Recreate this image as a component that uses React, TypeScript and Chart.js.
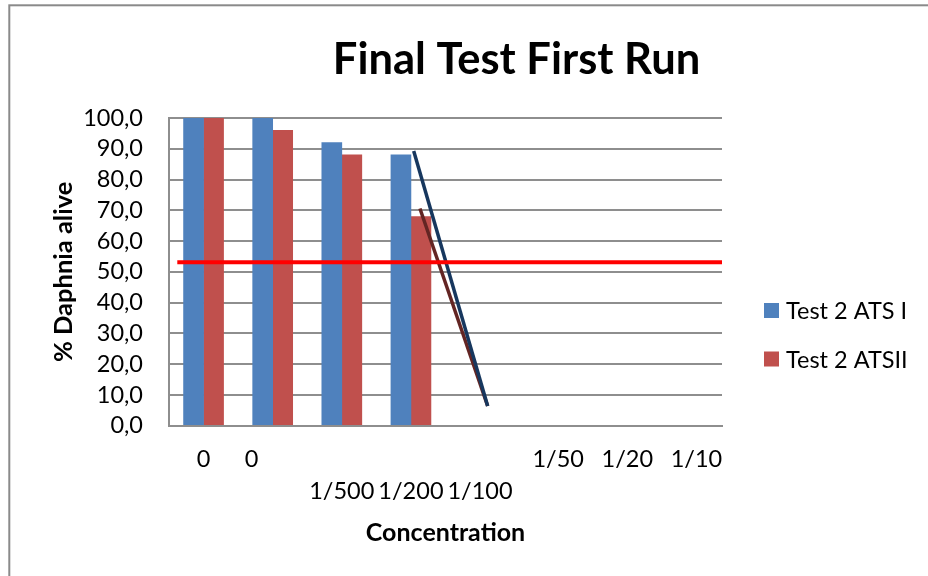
import { useEffect, useRef } from 'react';
import { Chart, registerables } from 'chart.js';

Chart.register(...registerables);

// ---- data ----
const categories = ['0', '0       ', '1/500', '1/200', '1/100', '   1/50', '   1/20', '   1/10'];
const labelRows = [0, 0, 1, 1, 1, 0, 0, 0];
const seriesNames = ['Test 2 ATS I', 'Test 2 ATSII'];
const ats1Values = [100, 100, 92, 88, null, null, null, null];
const ats2Values = [100, 96, 88, 68, null, null, null, null];

// drawn lines (x in category-index units, y in % alive)
const navyLineX = [3.04, 4.11];
const navyLineY = [89.3, 6.4];
const brownLineX = [3.13, 4.11];
const brownLineY = [70.6, 6.4];
const thresholdX = [-0.38, 7.5];
const thresholdY = [53.1, 53.1];

const yMin = 0;
const yMax = 100;
const yStep = 10;

const titleText = 'Final Test First Run';
const xTitle = 'Concentration';
const yTitle = '% Daphnia alive';

const FONT = 'Lato, "Open Sans", sans-serif';

const pts = (xs: number[], ys: number[]) => xs.map((x, i) => ({ x, y: ys[i] }));

const decor = {
  id: 'decor',
  beforeDraw(chart: any) {
    const { ctx } = chart;
    ctx.save();
    ctx.fillStyle = '#ffffff';
    ctx.fillRect(0, 0, chart.width, chart.height);
    ctx.strokeStyle = '#8a8a8a';
    ctx.lineWidth = 2;
    ctx.strokeRect(9.3, 5.3, chart.width + 40, chart.height + 40);
    ctx.restore();
  },
  afterDraw(chart: any) {
    const { ctx } = chart;
    ctx.save();
    ctx.fillStyle = '#000';
    ctx.font = `bold 43.5px ${FONT}`;
    ctx.textAlign = 'center';
    ctx.textBaseline = 'alphabetic';
    ctx.fillText(titleText, 516.5, 74);

    // legend
    const bars = chart.data.datasets.filter((d: any) => d.type === 'bar');
    ctx.font = `23.5px ${FONT}`;
    ctx.textAlign = 'left';
    ctx.textBaseline = 'middle';
    bars.forEach((d: any, i: number) => {
      const cy = 310.5 + i * 48.5;
      ctx.fillStyle = d.backgroundColor;
      ctx.fillRect(764, cy - 7.5, 15, 15);
      ctx.fillStyle = '#000';
      ctx.fillText(d.label, 786, cy + 1);
    });
    ctx.restore();
  },
};

export default function App() {
  const ref = useRef<HTMLCanvasElement>(null);
  useEffect(() => {
    const canvas = ref.current!;
    const chart = new Chart(canvas, {
      type: 'bar',
      data: {
        labels: categories,
        datasets: [
          {
            type: 'line',
            label: 'threshold',
            data: pts(thresholdX, thresholdY),
            xAxisID: 'x2',
            yAxisID: 'y',
            borderColor: '#FF0000',
            borderWidth: 4,
            pointRadius: 0,
            fill: false,
            order: 0,
          } as any,
          {
            type: 'line',
            label: 'navy',
            data: pts(navyLineX, navyLineY),
            xAxisID: 'x2',
            yAxisID: 'y',
            borderColor: '#17375E',
            borderWidth: 3.5,
            pointRadius: 0,
            fill: false,
            order: 1,
          } as any,
          {
            type: 'line',
            label: 'brown',
            data: pts(brownLineX, brownLineY),
            xAxisID: 'x2',
            yAxisID: 'y',
            borderColor: '#632523',
            borderWidth: 3.5,
            pointRadius: 0,
            fill: false,
            order: 1,
          } as any,
          {
            type: 'bar',
            label: seriesNames[0],
            data: ats1Values,
            backgroundColor: '#4F81BD',
            xAxisID: 'x',
            barThickness: 20,
            order: 2,
          } as any,
          {
            type: 'bar',
            label: seriesNames[1],
            data: ats2Values,
            backgroundColor: '#C0504D',
            xAxisID: 'x',
            barThickness: 20,
            order: 2,
          } as any,
        ],
      },
      options: {
        responsive: false,
        animation: false,
        devicePixelRatio: 1,
        layout: { padding: { left: 0, right: 206, top: 118, bottom: 0 } },
        plugins: {
          legend: { display: false },
          tooltip: { enabled: false },
          title: { display: false },
        },
        scales: {
          x: {
            type: 'category',
            offset: true,
            grid: { display: false, drawTicks: false },
            border: { display: true, color: '#8E8E8E', width: 2 },
            ticks: {
              autoSkip: false,
              maxRotation: 0,
              minRotation: 0,
              padding: 17.5,
              color: '#000',
              font: { family: FONT, size: 23.5, lineHeight: 1.36 },
              callback: (_v: any, i: number) =>
                labelRows[i] === 0 ? [categories[i], ''] : ['', categories[i]],
            },
            title: {
              display: true,
              text: xTitle,
              color: '#000',
              font: { family: FONT, size: 25, weight: 'bold' },
              padding: { top: 0, bottom: 28 },
            },
            afterFit: (s: any) => {
              s.height = 150.3;
            },
          },
          x2: {
            type: 'linear',
            display: false,
            offset: false,
            min: -0.5,
            max: 7.5,
          },
          y: {
            min: yMin,
            max: yMax,
            ticks: {
              stepSize: yStep,
              autoSkip: false,
              padding: 26,
              color: '#000',
              font: { family: FONT, size: 23.5 },
              callback: (v: any) => Number(v).toFixed(1).replace('.', ','),
            },
            grid: { color: '#8E8E8E', lineWidth: 2, drawTicks: false },
            border: { display: true, color: '#8E8E8E', width: 2 },
            title: {
              display: true,
              text: yTitle,
              color: '#000',
              font: { family: FONT, size: 25.5, weight: 'bold' },
              padding: { top: 48.5, bottom: 0 },
            },
            afterFit: (s: any) => {
              s.width = 169;
            },
          },
        } as any,
      },
      plugins: [decor],
    });
    return () => chart.destroy();
  }, []);

  return (
    <div style={{ position: 'fixed', left: 0, top: 0, width: 928, height: 576, background: '#fff' }}>
      <canvas ref={ref} width={928} height={576} style={{ display: 'block', width: 928, height: 576 }} />
    </div>
  );
}
